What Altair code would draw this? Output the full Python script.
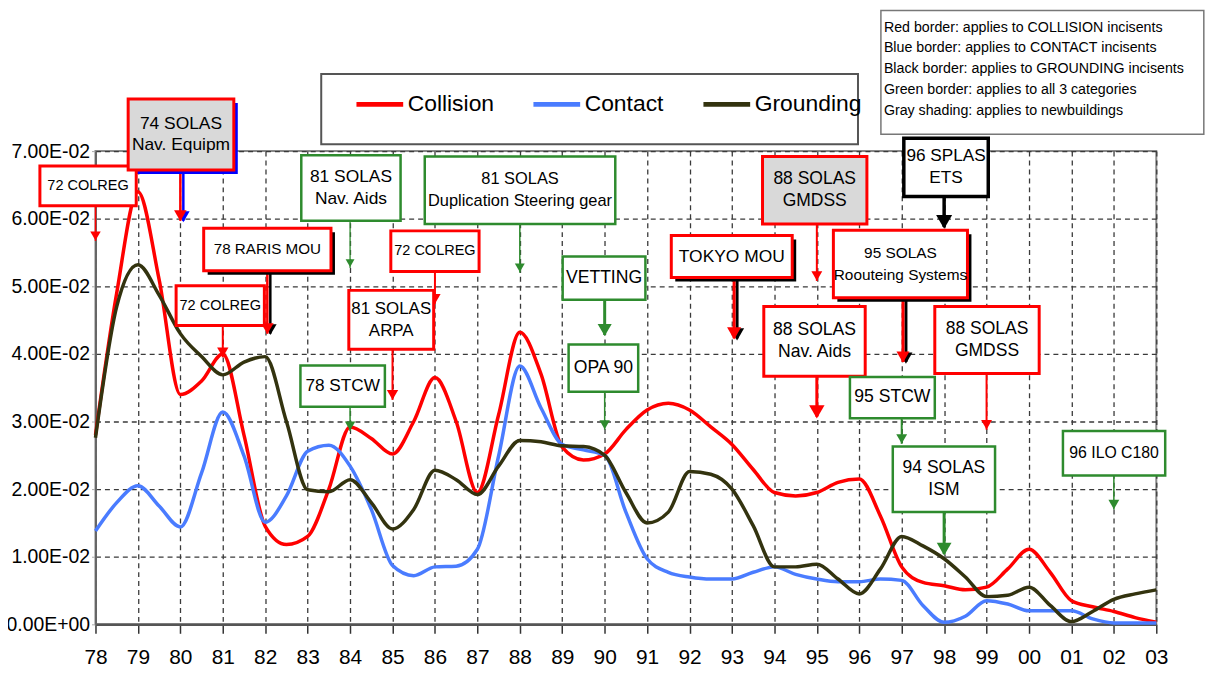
import altair as alt
import pandas as pd

# ---------------- data ----------------
years = [1978 + 0.5 * i for i in range(51)]
year_labels = ["78", "79", "80", "81", "82", "83", "84", "85", "86", "87", "88", "89", "90",
               "91", "92", "93", "94", "95", "96", "97", "98", "99", "00", "01", "02", "03"]
y_tick_values = [0.0, 0.01, 0.02, 0.03, 0.04, 0.05, 0.06, 0.07]
y_tick_labels = ["0.00E+00", "1.00E-02", "2.00E-02", "3.00E-02",
                 "4.00E-02", "5.00E-02", "6.00E-02", "7.00E-02"]

series_names = ["Collision", "Contact", "Grounding"]
series_colors = ["#ff0000", "#4a7cff", "#33330f"]

collision = [0.028, 0.049, 0.064, 0.051, 0.034, 0.036, 0.040, 0.028, 0.0145, 0.0118,
             0.013, 0.020, 0.0292, 0.0275, 0.0252, 0.030, 0.0365, 0.030, 0.0195, 0.031,
             0.0432, 0.037, 0.0262, 0.0243, 0.0252, 0.0288, 0.0317, 0.0327, 0.0317, 0.0292,
             0.0266, 0.0229, 0.0195, 0.019, 0.0195, 0.021, 0.0215, 0.016, 0.0085, 0.0062,
             0.0057, 0.0051, 0.0055, 0.0082, 0.0111, 0.0077, 0.0035, 0.0026, 0.0019, 0.001,
             0.0003]
contact = [0.0138, 0.018, 0.0205, 0.0175, 0.0144, 0.0224, 0.0314, 0.0249, 0.0151, 0.019,
           0.0256, 0.0265, 0.0234, 0.017, 0.0087, 0.0072, 0.0085, 0.0086, 0.0111, 0.0249,
           0.0382, 0.032, 0.0266, 0.0258, 0.025, 0.0166, 0.0097, 0.0077, 0.007, 0.0067,
           0.0067, 0.0077, 0.0085, 0.0074, 0.0067, 0.0063, 0.0063, 0.0067, 0.0065, 0.0028,
           0.0003, 0.0012, 0.0035, 0.003, 0.002, 0.002, 0.002, 0.0008, 0.0002, 0.0002,
           0.0002]
grounding = [0.0276, 0.047, 0.0532, 0.0487, 0.043, 0.0396, 0.0369, 0.0388, 0.0396, 0.030,
             0.0199, 0.0196, 0.0214, 0.018, 0.0141, 0.017, 0.0228, 0.0214, 0.0192, 0.0234,
             0.0272, 0.027, 0.0264, 0.0263, 0.025, 0.0195, 0.015, 0.0166, 0.0226, 0.0222,
             0.020, 0.0146, 0.0085, 0.0085, 0.0089, 0.0067, 0.0045, 0.0082, 0.013, 0.0116,
             0.0097, 0.007, 0.0041, 0.0043, 0.0055, 0.0028, 0.0004, 0.0019, 0.0037, 0.0045,
             0.0051]

# ---------------- annotation boxes (placed in data coordinates) ----------------
box_labels = ["72 COLREG", "74 SOLAS\nNav. Equipm", "78 RARIS MOU", "72 COLREG",
              "81 SOLAS\nNav. Aids", "72 COLREG", "81 SOLAS\nARPA",
              "81 SOLAS\nDuplication Steering gear", "78 STCW", "VETTING", "OPA 90",
              "TOKYO MOU", "88 SOLAS\nGMDSS", "96 SPLAS\nETS", "95 SOLAS\nRoouteing Systems",
              "88 SOLAS\nNav. Aids", "88 SOLAS\nGMDSS", "95 STCW", "94 SOLAS\nISM", "96 ILO C180"]
box_x1 = [1976.69, 1978.77, 1980.55, 1979.90, 1982.85, 1984.96, 1983.97, 1985.76, 1982.83, 1989.01,
          1989.15, 1991.57, 1993.72, 1997.05, 1995.39, 1993.75, 1997.78, 1995.78, 1996.79, 2000.80]
box_x2 = [1978.96, 1981.26, 1983.55, 1981.98, 1985.19, 1987.04, 1985.97, 1990.25, 1984.82, 1990.96,
          1990.79, 1994.42, 1996.18, 1999.04, 1998.55, 1996.14, 2000.24, 1997.78, 1999.20, 2003.21]
box_top = [0.0678, 0.0777, 0.0586, 0.0501, 0.0694, 0.0582, 0.0494, 0.0692, 0.0383, 0.0544,
           0.0414, 0.0575, 0.0692, 0.0719, 0.0583, 0.0470, 0.0470, 0.0366, 0.0263, 0.0286]
box_bottom = [0.0619, 0.0672, 0.0523, 0.0442, 0.0597, 0.0522, 0.0407, 0.0592, 0.0322, 0.0480,
              0.0344, 0.0513, 0.0592, 0.0633, 0.0483, 0.0367, 0.0371, 0.0305, 0.0166, 0.0220]
RED, GREEN, BLACK = "#ff0000", "#2e8b2e", "#000000"
box_stroke = [RED, RED, RED, RED, GREEN, RED, RED, GREEN, GREEN, GREEN,
              GREEN, RED, RED, BLACK, RED, RED, RED, GREEN, GREEN, GREEN]
box_fill = ["#ffffff", "#d9d9d9", "#ffffff", "#ffffff", "#ffffff", "#ffffff", "#ffffff",
            "#ffffff", "#ffffff", "#ffffff", "#ffffff", "#ffffff", "#d9d9d9", "#ffffff",
            "#ffffff", "#ffffff", "#ffffff", "#ffffff", "#ffffff", "#ffffff"]
box_shadow = ["", "#0000ff", "#000000", "", "", "", "", "", "", "",
              "", "#000000", "", "", "#000000", "", "", "", "", ""]
box_font = [14.6, 17.5, 15.3, 14.6, 17.5, 14.6, 17, 16.5, 17.3, 17.7,
            17.7, 17.5, 17.6, 17.3, 15.5, 17.7, 17.6, 17.7, 17.6, 15.9]

arrow_x = [1978.0, 1980.0, 1982.05, 1981.0, 1984.0, 1986.0, 1985.0, 1988.0, 1984.0, 1990.0,
           1990.0, 1993.05, 1995.0, 1998.0, 1997.03, 1995.0, 1999.0, 1997.0, 1998.0, 2002.0]
arrow_tip = [0.0567, 0.0597, 0.0430, 0.0395, 0.0527, 0.0474, 0.0332, 0.0520, 0.0286, 0.0428,
             0.0288, 0.0423, 0.0508, 0.0588, 0.0388, 0.0307, 0.0288, 0.0267, 0.0104, 0.0170]
arrow_color = [RED, RED, RED, RED, GREEN, RED, RED, GREEN, GREEN, GREEN,
               GREEN, RED, RED, BLACK, RED, RED, RED, GREEN, GREEN, GREEN]
arrow_width = [1.5, 2.5, 2.5, 2, 1.3, 2, 2, 1.5, 1.5, 3, 1.5, 3, 2, 3.5, 3, 3, 2, 2, 3, 1.5]
arrow_head = [110, 160, 160, 130, 80, 130, 130, 100, 110, 200, 110, 200, 120, 260, 170, 240,
              120, 120, 220, 120]
arrow_shadow = ["", "#0000ff", "#000000", "", "", "", "", "", "", "",
                "", "#000000", "", "", "#000000", "", "", "", "", ""]

legend_box = dict(x1=1983.32, x2=1995.97, top=0.0814, bottom=0.0710)
note_box = dict(x1=1996.51, x2=2004.12, top=0.0908, bottom=0.0725)
note_lines = ["Red border: applies to COLLISION incisents",
              "Blue border: applies to CONTACT incisents",
              "Black border: applies to GROUNDING incisents",
              "Green border: applies to all 3 categories",
              "Gray shading: applies to newbuildings"]

# ---------------- tables ----------------
rows = []
for name, vals in zip(series_names, [collision, contact, grounding]):
    for yr, v in zip(years, vals):
        rows.append({"year": yr, "rate": v, "series": name})
df = pd.DataFrame(rows)

sw = {RED: 3, GREEN: 2.5, BLACK: 3.5}
boxes = pd.DataFrame({
    "label": box_labels, "x1": box_x1, "x2": box_x2, "top": box_top, "bottom": box_bottom,
    "stroke": box_stroke, "fill": box_fill, "shadow": box_shadow,
    "sw": [sw[c] for c in box_stroke], "fs": box_font,
    "nlines": [s.count("\n") + 1 for s in box_labels],
})
boxes["tx"] = (boxes["x1"] + boxes["x2"]) / 2
boxes["ty"] = (boxes["top"] + boxes["bottom"]) / 2

frames = pd.DataFrame([
    {"x1": legend_box["x1"], "x2": legend_box["x2"], "top": legend_box["top"],
     "bottom": legend_box["bottom"], "stroke": "#555555", "sw": 2},
    {"x1": note_box["x1"], "x2": note_box["x2"], "top": note_box["top"],
     "bottom": note_box["bottom"], "stroke": "#777777", "sw": 1.5},
])

arrows = pd.DataFrame({
    "x": arrow_x, "y0": box_bottom, "tip": arrow_tip, "color": arrow_color,
    "w": arrow_width, "head": arrow_head, "shadow": arrow_shadow,
})

note_df = pd.DataFrame({"x": [note_box["x1"] + 0.07], "y": [0.0893],
                        "text": ["\n".join(note_lines)]})

# ---------------- scales / axes ----------------
xscale = alt.Scale(domain=[1978, 2003], nice=False, zero=False)
yscale = alt.Scale(domain=[0, 0.07], nice=False, zero=False)
xlabel_expr = "[" + ",".join("'%s'" % s for s in year_labels) + "][round(datum.value) - 1978]"
ylabel_expr = "[" + ",".join("'%s'" % s for s in y_tick_labels) + "][round(datum.value * 100)]"

xaxis = alt.Axis(values=list(range(1978, 2004)), labelExpr=xlabel_expr, title=None,
                 grid=True, gridDash=[5, 4], gridColor="#3a3a3a", gridWidth=1.3, gridOpacity=1,
                 domainColor="#555555", domainWidth=2.5, tickColor="#333333", tickSize=9,
                 tickWidth=1.5, labelFontSize=21, labelPadding=13, labelFont="Liberation Sans",
                 labelColor="#000000", labelFlush=False, labelOverlap=False)
yaxis = alt.Axis(values=y_tick_values, labelExpr=ylabel_expr, title=None,
                 grid=True, gridDash=[5, 4], gridColor="#3a3a3a", gridWidth=1.3, gridOpacity=1,
                 domainColor="#666666", domainWidth=2, tickColor="#aaaaaa", tickSize=4,
                 labelFontSize=19.5, labelPadding=2, labelFont="Liberation Sans",
                 labelColor="#000000", labelFlush=False, labelOverlap=False)


def X(f):
    return alt.X(f, type="quantitative", scale=xscale, axis=xaxis)


def Y(f):
    return alt.Y(f, type="quantitative", scale=yscale, axis=yaxis)


FONT = "Liberation Sans"

lines = alt.Chart(df).mark_line(interpolate="monotone", strokeWidth=3.5).encode(
    x=X("year"), y=Y("rate"),
    color=alt.Color("series:N", scale=alt.Scale(domain=series_names, range=series_colors),
                    legend=alt.Legend(title=None, orient="none", legendX=260, legendY=-73,
                                      direction="horizontal", symbolType="stroke",
                                      symbolSize=2209, symbolStrokeWidth=5,
                                      labelFontSize=23, labelFont=FONT,
                                      labelColor="#000000", labelOffset=2,
                                      columnPadding=29, padding=0)),
)

frame_layer = alt.Chart(frames).mark_rect(fill="#ffffff").encode(
    x=X("x1"), x2="x2", y=Y("top"), y2="bottom",
    stroke=alt.Stroke("stroke:N", scale=None), strokeWidth=alt.StrokeWidth("sw:Q", scale=None),
)

note_text = alt.Chart(note_df).mark_text(align="left", baseline="top", lineBreak="\n",
                                         lineHeight=21, fontSize=14.3, font=FONT,
                                         color="#000000").encode(
    x=X("x"), y=Y("y"), text="text:N")

shadow_layer = alt.Chart(boxes).transform_filter("datum.shadow != ''").mark_rect(
    xOffset=4, x2Offset=4, yOffset=4, y2Offset=4).encode(
    x=X("x1"), x2="x2", y=Y("top"), y2="bottom", fill=alt.Fill("shadow:N", scale=None))

box_layer = alt.Chart(boxes).mark_rect().encode(
    x=X("x1"), x2="x2", y=Y("top"), y2="bottom",
    fill=alt.Fill("fill:N", scale=None), stroke=alt.Stroke("stroke:N", scale=None),
    strokeWidth=alt.StrokeWidth("sw:Q", scale=None))

text_one = alt.Chart(boxes).transform_filter("datum.nlines == 1").mark_text(
    align="center", baseline="middle", font=FONT, color="#000000").encode(
    x=X("tx"), y=Y("ty"), text="label:N", size=alt.Size("fs:Q", scale=None))

text_two = alt.Chart(boxes).transform_filter("datum.nlines == 2").mark_text(
    align="center", baseline="middle", lineBreak="\n", lineHeight=22, dy=-11,
    font=FONT, color="#000000").encode(
    x=X("tx"), y=Y("ty"), text="label:N", size=alt.Size("fs:Q", scale=None))

arrow_shadow_layer = alt.Chart(arrows).transform_filter("datum.shadow != ''").mark_rule(
    xOffset=3).encode(
    x=X("x"), y=Y("y0"), y2="tip", stroke=alt.Stroke("shadow:N", scale=None),
    strokeWidth=alt.StrokeWidth("w:Q", scale=None))

arrow_shadow_head = alt.Chart(arrows).transform_filter("datum.shadow != ''").mark_point(
    shape="triangle-down", filled=True, opacity=1, xOffset=3, yOffset=-4).encode(
    x=X("x"), y=Y("tip"), fill=alt.Fill("shadow:N", scale=None),
    size=alt.Size("head:Q", scale=None))

arrow_layer = alt.Chart(arrows).mark_rule().encode(
    x=X("x"), y=Y("y0"), y2="tip", stroke=alt.Stroke("color:N", scale=None),
    strokeWidth=alt.StrokeWidth("w:Q", scale=None))

arrow_head = alt.Chart(arrows).mark_point(
    shape="triangle-down", filled=True, opacity=1, yOffset=-5).encode(
    x=X("x"), y=Y("tip"), fill=alt.Fill("color:N", scale=None),
    size=alt.Size("head:Q", scale=None))

chart = alt.layer(
    lines, frame_layer, note_text, arrow_shadow_layer, arrow_shadow_head,
    arrow_layer, arrow_head, shadow_layer, box_layer, text_one, text_two,
).properties(
    width=1067, height=476,
    autosize=alt.AutoSizeParams(type="none"),
    padding={"left": 88, "top": 142, "right": 50, "bottom": 45},
    background="#ffffff",
).configure_view(stroke="#888888", strokeWidth=2)

chart.save("out.html", embed_options={"renderer": "svg", "actions": False})
